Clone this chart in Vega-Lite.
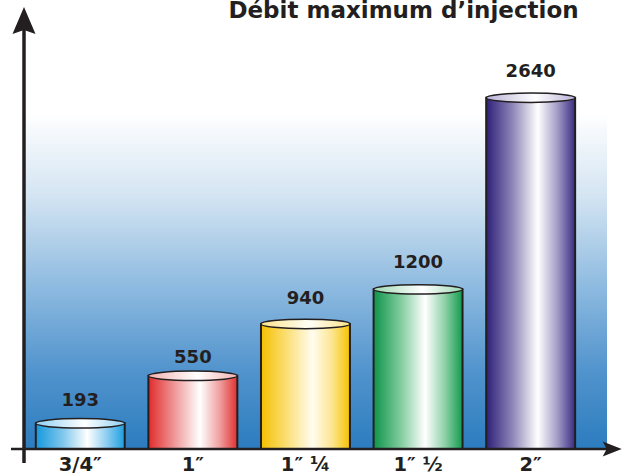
{
  "$schema": "https://vega.github.io/schema/vega-lite/v6.json",
  "width": 583,
  "height": 442,
  "autosize": {"type": "none"},
  "padding": {"left": 24, "top": 7, "right": 21, "bottom": 26},
  "title": {
    "text": "Débit maximum d’injection",
    "anchor": "middle",
    "frame": "group",
    "dx": 88,
    "dy": 9,
    "offset": -25,
    "baseline": "alphabetic",
    "font": "DejaVu Sans",
    "fontSize": 23,
    "fontWeight": "bold",
    "color": "#231f20"
  },
  "config": {
    "view": {
      "stroke": null,
      "fill": {"gradient": "linear", "x1": 0, "y1": 0, "x2": 0, "y2": 1, "stops": [
        {"offset": 0, "color": "#ffffff"},
        {"offset": 0.24, "color": "#ffffff"},
        {"offset": 0.43, "color": "#d3e4f2"},
        {"offset": 0.62, "color": "#92bde1"},
        {"offset": 0.82, "color": "#5294cd"},
        {"offset": 1, "color": "#2c7cbf"}
      ]}
    },
    "text": {"font": "DejaVu Sans", "fontSize": 18, "fontWeight": "bold", "color": "#231f20"}
  },
  "data": {"values": [
    {"size": "3/4″", "debit": 193},
    {"size": "1″", "debit": 550},
    {"size": "1″ ¼", "debit": 940},
    {"size": "1″ ½", "debit": 1200},
    {"size": "2″", "debit": 2640}
  ]},
  "resolve": {"scale": {"x": "independent"}},
  "layer": [
    {
      "encoding": {
        "x": {"field": "size", "type": "nominal", "sort": null,
          "scale": {"domain": ["3/4″", "1″", "1″ ¼", "1″ ½", "2″"], "paddingInner": 0.21, "paddingOuter": 0.1938, "align": 0.27},
          "axis": {"title": null, "domain": false, "ticks": false, "tickSize": 0, "labelPadding": 21, "labelBaseline": "alphabetic", "labelAngle": 0,
            "labelFont": "DejaVu Sans", "labelFontSize": 19.5, "labelFontWeight": "bold", "labelColor": "#231f20", "grid": false}},
        "y": {"field": "debit", "type": "quantitative", "scale": {"domain": [0, 3322], "nice": false, "zero": true}, "axis": null}
      },
      "layer": [
        {
          "transform": [{"filter": "datum.size === '3/4″'"}],
          "layer": [
            {"mark": {"type": "bar", "stroke": "#231f20", "strokeWidth": 2, "fill": {"gradient": "linear", "x1": 0, "y1": 0, "x2": 1, "y2": 0, "stops": [
              {"offset": 0, "color": "#1598dc"}, {"offset": 0.3, "color": "#7ec6ec"}, {"offset": 0.58, "color": "#ffffff"}, {"offset": 0.8, "color": "#8ccdf0"}, {"offset": 1, "color": "#1a9ee0"}]}}},
            {"mark": {"type": "point", "shape": "M-44.5,0A44.5,4.7,0,1,0,44.5,0A44.5,4.7,0,1,0,-44.5,0Z", "size": 4, "filled": true, "opacity": 1, "stroke": "#231f20", "strokeWidth": 1.5,
              "fill": {"gradient": "linear", "x1": 0, "y1": 0, "x2": 1, "y2": 0, "stops": [{"offset": 0, "color": "#8fd0f2"}, {"offset": 0.55, "color": "#ffffff"}, {"offset": 1, "color": "#8fd0f2"}]}}},
            {"mark": {"type": "text", "dy": -17, "baseline": "alphabetic"}, "encoding": {"text": {"field": "debit", "type": "quantitative"}}}
          ]
        },
        {
          "transform": [{"filter": "datum.size === '1″'"}],
          "layer": [
            {"mark": {"type": "bar", "stroke": "#231f20", "strokeWidth": 2, "fill": {"gradient": "linear", "x1": 0, "y1": 0, "x2": 1, "y2": 0, "stops": [
              {"offset": 0, "color": "#e12b2b"}, {"offset": 0.3, "color": "#ef9a9a"}, {"offset": 0.58, "color": "#ffffff"}, {"offset": 0.8, "color": "#f0a0a0"}, {"offset": 1, "color": "#e03030"}]}}},
            {"mark": {"type": "point", "shape": "M-44.5,0A44.5,4.7,0,1,0,44.5,0A44.5,4.7,0,1,0,-44.5,0Z", "size": 4, "filled": true, "opacity": 1, "stroke": "#231f20", "strokeWidth": 1.5,
              "fill": {"gradient": "linear", "x1": 0, "y1": 0, "x2": 1, "y2": 0, "stops": [{"offset": 0, "color": "#f3b0b0"}, {"offset": 0.55, "color": "#ffffff"}, {"offset": 1, "color": "#f3b0b0"}]}}},
            {"mark": {"type": "text", "dy": -13, "baseline": "alphabetic"}, "encoding": {"text": {"field": "debit", "type": "quantitative"}}}
          ]
        },
        {
          "transform": [{"filter": "datum.size === '1″ ¼'"}],
          "layer": [
            {"mark": {"type": "bar", "stroke": "#231f20", "strokeWidth": 2, "fill": {"gradient": "linear", "x1": 0, "y1": 0, "x2": 1, "y2": 0, "stops": [
              {"offset": 0, "color": "#f5c000"}, {"offset": 0.3, "color": "#fbe07a"}, {"offset": 0.58, "color": "#fffdf0"}, {"offset": 0.8, "color": "#fce590"}, {"offset": 1, "color": "#f6c200"}]}}},
            {"mark": {"type": "point", "shape": "M-44.5,0A44.5,4.7,0,1,0,44.5,0A44.5,4.7,0,1,0,-44.5,0Z", "size": 4, "filled": true, "opacity": 1, "stroke": "#231f20", "strokeWidth": 1.5,
              "fill": {"gradient": "linear", "x1": 0, "y1": 0, "x2": 1, "y2": 0, "stops": [{"offset": 0, "color": "#fbe38a"}, {"offset": 0.55, "color": "#fffef5"}, {"offset": 1, "color": "#fbe38a"}]}}},
            {"mark": {"type": "text", "dy": -20, "baseline": "alphabetic"}, "encoding": {"text": {"field": "debit", "type": "quantitative"}}}
          ]
        },
        {
          "transform": [{"filter": "datum.size === '1″ ½'"}],
          "layer": [
            {"mark": {"type": "bar", "stroke": "#231f20", "strokeWidth": 2, "fill": {"gradient": "linear", "x1": 0, "y1": 0, "x2": 1, "y2": 0, "stops": [
              {"offset": 0, "color": "#0e944a"}, {"offset": 0.3, "color": "#7fcb9c"}, {"offset": 0.58, "color": "#ffffff"}, {"offset": 0.8, "color": "#8fd1a8"}, {"offset": 1, "color": "#119a4d"}]}}},
            {"mark": {"type": "point", "shape": "M-44.5,0A44.5,4.7,0,1,0,44.5,0A44.5,4.7,0,1,0,-44.5,0Z", "size": 4, "filled": true, "opacity": 1, "stroke": "#231f20", "strokeWidth": 1.5,
              "fill": {"gradient": "linear", "x1": 0, "y1": 0, "x2": 1, "y2": 0, "stops": [{"offset": 0, "color": "#9fd8b3"}, {"offset": 0.55, "color": "#ffffff"}, {"offset": 1, "color": "#9fd8b3"}]}}},
            {"mark": {"type": "text", "dy": -21, "baseline": "alphabetic"}, "encoding": {"text": {"field": "debit", "type": "quantitative"}}}
          ]
        },
        {
          "transform": [{"filter": "datum.size === '2″'"}],
          "layer": [
            {"mark": {"type": "bar", "stroke": "#231f20", "strokeWidth": 2, "fill": {"gradient": "linear", "x1": 0, "y1": 0, "x2": 1, "y2": 0, "stops": [
              {"offset": 0, "color": "#2e1f78"}, {"offset": 0.3, "color": "#8f87b8"}, {"offset": 0.58, "color": "#ffffff"}, {"offset": 0.8, "color": "#a39dc6"}, {"offset": 1, "color": "#3a2b82"}]}}},
            {"mark": {"type": "point", "shape": "M-44.5,0A44.5,4.7,0,1,0,44.5,0A44.5,4.7,0,1,0,-44.5,0Z", "size": 4, "filled": true, "opacity": 1, "stroke": "#231f20", "strokeWidth": 1.5,
              "fill": {"gradient": "linear", "x1": 0, "y1": 0, "x2": 1, "y2": 0, "stops": [{"offset": 0, "color": "#b8b2d6"}, {"offset": 0.55, "color": "#ffffff"}, {"offset": 1, "color": "#b8b2d6"}]}}},
            {"mark": {"type": "text", "dy": -21, "baseline": "alphabetic"}, "encoding": {"text": {"field": "debit", "type": "quantitative"}}}
          ]
        }
      ]
    },
    {
      "data": {"values": [{}]},
      "layer": [
        {"mark": {"type": "rule", "color": "#231f20", "strokeWidth": 3.5},
          "encoding": {
            "x": {"datum": 0, "type": "quantitative", "scale": {"domain": [0, 1], "nice": false, "zero": false}, "axis": null},
            "y": {"datum": 3200, "type": "quantitative", "scale": {"domain": [0, 3322], "nice": false}, "axis": null},
            "y2": {"datum": -105}
          }},
        {"mark": {"type": "rule", "color": "#231f20", "strokeWidth": 2.5},
          "encoding": {
            "x": {"datum": -0.0223, "type": "quantitative", "scale": {"domain": [0, 1], "nice": false, "zero": false}, "axis": null},
            "x2": {"datum": 1.01},
            "y": {"datum": 0, "type": "quantitative", "scale": {"domain": [0, 3322], "nice": false}, "axis": null}
          }},
        {"mark": {"type": "point", "shape": "M0,0L11.5,27L0,23L-11.5,27Z", "size": 4, "filled": true, "opacity": 1, "fill": "#231f20", "strokeWidth": 0},
          "encoding": {
            "x": {"datum": 0, "type": "quantitative", "scale": {"domain": [0, 1], "nice": false, "zero": false}, "axis": null},
            "y": {"datum": 3322, "type": "quantitative", "scale": {"domain": [0, 3322], "nice": false}, "axis": null}
          }},
        {"mark": {"type": "point", "shape": "M0,0L-19,-7.5L-15,0L-19,7.5Z", "size": 4, "filled": true, "opacity": 1, "fill": "#231f20", "strokeWidth": 0},
          "encoding": {
            "x": {"datum": 1.0252, "type": "quantitative", "scale": {"domain": [0, 1], "nice": false, "zero": false}, "axis": null},
            "y": {"datum": 0, "type": "quantitative", "scale": {"domain": [0, 3322], "nice": false}, "axis": null}
          }}
      ]
    }
  ]
}
